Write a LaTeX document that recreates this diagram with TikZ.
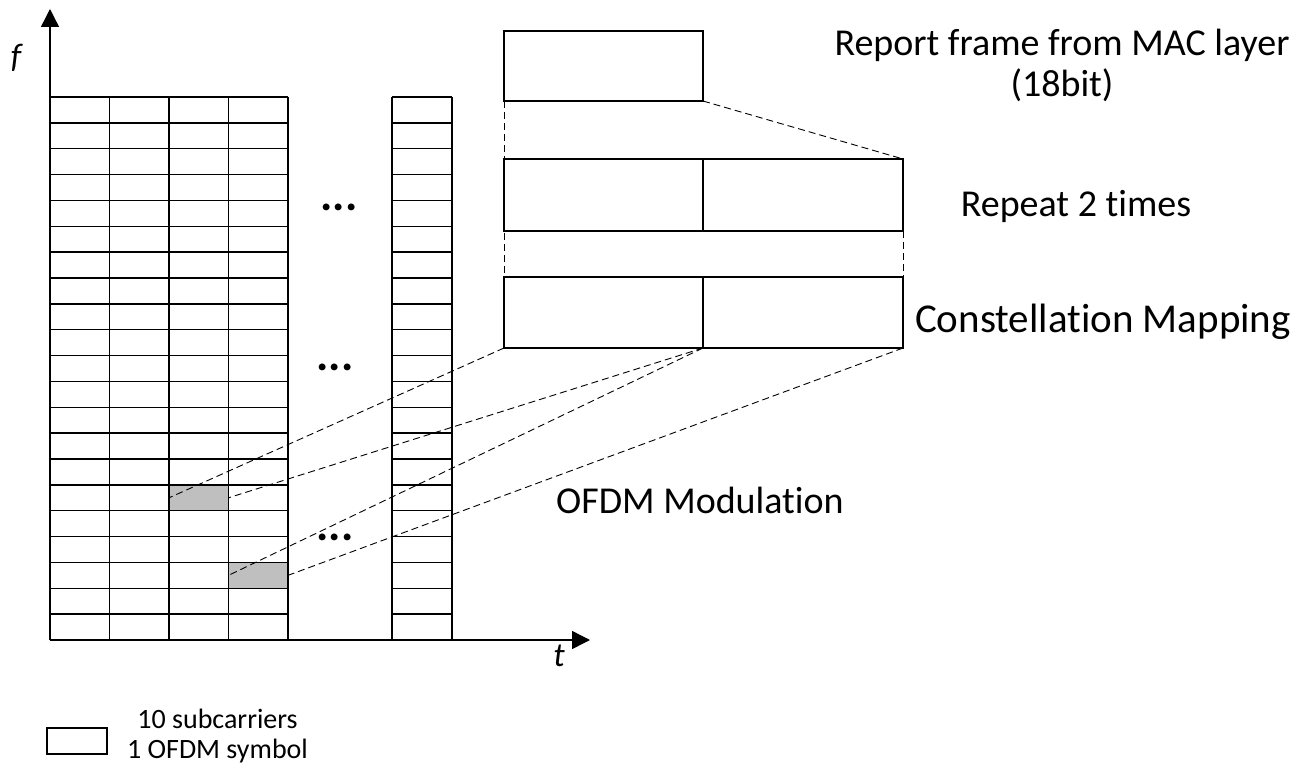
\documentclass[tikz,border=0pt]{standalone}
\usepackage{fontspec}
\setmainfont{Carlito}[Ligatures=NoCommon]
\usetikzlibrary{arrows.meta}
\definecolor{shade}{RGB}{191,191,191}
\begin{document}
\begin{tikzpicture}[x=1bp,y=-1bp,
  gridline/.style={line width=1.4bp},
  cellbox/.style={draw=none, minimum width=59.5bp, minimum height=25.857bp, inner sep=0pt, outer sep=0pt},
  framebox/.style={draw, line width=1.1bp, inner sep=0pt, outer sep=0pt},
  dashln/.style={line width=0.9bp, dash pattern=on 7bp off 4bp},
  lab/.style={font=\fontsize{38bp}{43bp}\selectfont, inner sep=0pt, anchor=base},
  smalllab/.style={font=\fontsize{28bp}{30bp}\selectfont, inner sep=0pt, anchor=base},
  axlab/.style={font=\fontsize{34bp}{36bp}\selectfont\itshape, inner sep=0pt, anchor=base},
  dotsl/.style={font=\fontsize{46bp}{48bp}\selectfont\bfseries, inner sep=0pt, anchor=base},
  axis/.style={line width=1.4bp, -{Triangle[length=18bp,width=18bp]}}]
\useasboundingbox (0,0) rectangle (1298,765);

% shaded cells
\node[cellbox, fill=shade] (s1) at (198.75,497.79) {};
\node[cellbox, fill=shade] (s2) at (258.25,575.36) {};

% main grid
\foreach \i in {0,...,21} \draw[gridline] (50,{97+\i*25.857}) -- (288,{97+\i*25.857});
\foreach \x in {50,109.5,169,228.5,288} \draw[gridline] (\x,97) -- (\x,640);
% last column
\foreach \i in {0,...,21} \draw[gridline] (392,{97+\i*25.857}) -- (452,{97+\i*25.857});
\foreach \x in {392,452} \draw[gridline] (\x,97) -- (\x,640);

% dots
\node[dotsl] (d1) at (339,210) {.\kern0.3bp.\kern0.3bp.};
\node[dotsl] (d2) at (335,370) {.\kern0.3bp.\kern0.3bp.};
\node[dotsl] (d3) at (335,540) {.\kern0.3bp.\kern0.3bp.};

% axes
\coordinate (O) at (50,640);
\coordinate (ftip) at (50,9);
\coordinate (ttip) at (590,640);
\draw[axis] (O) -- (ftip);
\draw[axis] (O) -- (ttip);
\node[axlab] (flab) at (16,68) {f};
\node[axlab] (tlab) at (559,666) {t};

% frame boxes
\node[framebox, minimum width=199bp, minimum height=70bp] (mac) at (603.5,66) {};
\node[framebox, minimum width=199bp, minimum height=72bp] (r1) at (603.5,195) {};
\node[framebox, minimum width=200bp, minimum height=72bp] (r2) at (803,195) {};
\node[framebox, minimum width=199bp, minimum height=71bp] (c1) at (603.5,312.5) {};
\node[framebox, minimum width=200bp, minimum height=71bp] (c2) at (803,312.5) {};

% dashed connectors
\draw[dashln] (mac.south west) -- (c1.south west);
\draw[dashln] (mac.south east) -- (r2.north east);
\draw[dashln] (r2.south east) -- (c2.north east);
\draw[dashln] (c1.south west) -- (s1.west);
\draw[dashln] (c1.south east) -- (s1.east);
\draw[dashln] (c1.south east) -- (s2.west);
\draw[dashln] (c2.south east) -- (s2.east);

% labels
\node[lab] (t1) at (1062,56) {Report frame from MAC layer};
\node[lab] (t2) at (1062,97) {(18bit)};
\node[lab] (t3) at (1076,216) {Repeat 2 times};
\node[lab, font=\fontsize{41bp}{45bp}\selectfont] (t4) at (1103,332) {Constellation Mapping};
\node[lab] (t5) at (700,513) {OFDM Modulation};

% legend
\node[framebox, minimum width=60bp, minimum height=26bp] (leg) at (77,741) {};
\node[smalllab] (l1) at (217.5,728) {10 subcarriers};
\node[smalllab] (l2) at (217.5,758) {1 OFDM symbol};
\end{tikzpicture}
\end{document}
